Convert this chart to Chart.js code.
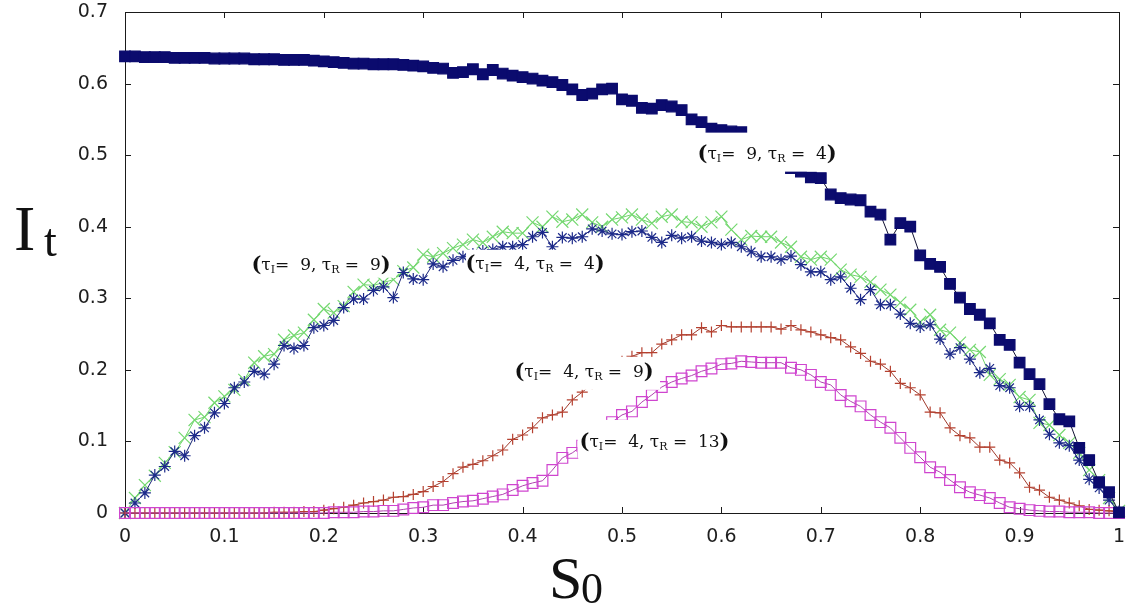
<!DOCTYPE html>
<html>
<head>
<meta charset="utf-8">
<script src="https://cdn.jsdelivr.net/npm/chart.js@4.4.1/dist/chart.umd.min.js"></script>
<style>
  html, body { margin: 0; padding: 0; background: #ffffff; }
  #wrap { width: 1130px; height: 612px; }
</style>
</head>
<body>
<div id="wrap"><canvas id="c" width="1130" height="612"></canvas></div>
<script>
// Initial susceptible fraction S0
const s0 = [
  0.00, 0.01, 0.02, 0.03, 0.04, 0.05, 0.06, 0.07, 0.08, 0.09,
  0.10, 0.11, 0.12, 0.13, 0.14, 0.15, 0.16, 0.17, 0.18, 0.19,
  0.20, 0.21, 0.22, 0.23, 0.24, 0.25, 0.26, 0.27, 0.28, 0.29,
  0.30, 0.31, 0.32, 0.33, 0.34, 0.35, 0.36, 0.37, 0.38, 0.39,
  0.40, 0.41, 0.42, 0.43, 0.44, 0.45, 0.46, 0.47, 0.48, 0.49,
  0.50, 0.51, 0.52, 0.53, 0.54, 0.55, 0.56, 0.57, 0.58, 0.59,
  0.60, 0.61, 0.62, 0.63, 0.64, 0.65, 0.66, 0.67, 0.68, 0.69,
  0.70, 0.71, 0.72, 0.73, 0.74, 0.75, 0.76, 0.77, 0.78, 0.79,
  0.80, 0.81, 0.82, 0.83, 0.84, 0.85, 0.86, 0.87, 0.88, 0.89,
  0.90, 0.91, 0.92, 0.93, 0.94, 0.95, 0.96, 0.97, 0.98, 0.99,
  1.00
];

// I_t for tauI = 9, tauR = 4 (filled squares)
const itI9R4 = [
  0.638, 0.638, 0.637, 0.637, 0.637, 0.636, 0.636, 0.636, 0.636, 0.635,
  0.635, 0.635, 0.635, 0.634, 0.634, 0.634, 0.633, 0.633, 0.633, 0.632,
  0.631, 0.630, 0.629, 0.628, 0.628, 0.627, 0.627, 0.627, 0.626, 0.625,
  0.624, 0.622, 0.621, 0.615, 0.616, 0.620, 0.613, 0.619, 0.614, 0.611,
  0.609, 0.607, 0.604, 0.602, 0.598, 0.592, 0.584, 0.586, 0.592, 0.593,
  0.578, 0.576, 0.566, 0.565, 0.570, 0.568, 0.563, 0.550, 0.546, 0.537,
  0.535, 0.533, 0.532, 0.522, 0.512, 0.500, 0.490, 0.482, 0.477, 0.469,
  0.468, 0.445, 0.440, 0.438, 0.437, 0.421, 0.417, 0.382, 0.405, 0.400,
  0.360, 0.348, 0.344, 0.320, 0.301, 0.285, 0.277, 0.265, 0.242, 0.235,
  0.210, 0.194, 0.180, 0.152, 0.131, 0.128, 0.091, 0.074, 0.043, 0.029,
  0.001
];

// I_t for tauI = 4, tauR = 4 (asterisks)
const itI4R4 = [
  0.000, 0.014, 0.028, 0.053, 0.065, 0.086, 0.080, 0.108, 0.119, 0.140,
  0.153, 0.175, 0.183, 0.198, 0.194, 0.208, 0.234, 0.230, 0.234, 0.259,
  0.262, 0.269, 0.287, 0.299, 0.299, 0.311, 0.316, 0.301, 0.336, 0.327,
  0.326, 0.348, 0.344, 0.353, 0.358, 0.362, 0.366, 0.368, 0.372, 0.372,
  0.375, 0.386, 0.392, 0.372, 0.385, 0.384, 0.386, 0.397, 0.394, 0.390,
  0.389, 0.393, 0.394, 0.385, 0.378, 0.388, 0.384, 0.386, 0.380, 0.378,
  0.375, 0.378, 0.372, 0.365, 0.358, 0.358, 0.354, 0.359, 0.347, 0.337,
  0.337, 0.326, 0.330, 0.314, 0.298, 0.312, 0.291, 0.291, 0.278, 0.265,
  0.260, 0.263, 0.243, 0.222, 0.231, 0.215, 0.196, 0.202, 0.178, 0.175,
  0.149, 0.149, 0.130, 0.110, 0.098, 0.094, 0.074, 0.047, 0.035, 0.018,
  0.002
];

// I_t for tauI = 9, tauR = 9 (crosses)
const itI9R9 = [
  0.000, 0.021, 0.039, 0.052, 0.070, 0.085, 0.105, 0.130, 0.134, 0.154,
  0.163, 0.172, 0.186, 0.210, 0.219, 0.222, 0.242, 0.248, 0.252, 0.270,
  0.285, 0.280, 0.289, 0.309, 0.319, 0.318, 0.322, 0.326, 0.338, 0.343,
  0.361, 0.358, 0.363, 0.370, 0.375, 0.382, 0.378, 0.386, 0.393, 0.391,
  0.391, 0.406, 0.400, 0.414, 0.407, 0.410, 0.417, 0.406, 0.400, 0.410,
  0.413, 0.417, 0.410, 0.405, 0.414, 0.417, 0.407, 0.406, 0.400, 0.406,
  0.414, 0.396, 0.382, 0.387, 0.386, 0.386, 0.378, 0.372, 0.358, 0.354,
  0.358, 0.354, 0.340, 0.333, 0.330, 0.323, 0.312, 0.305, 0.294, 0.284,
  0.267, 0.277, 0.256, 0.252, 0.238, 0.228, 0.225, 0.193, 0.187, 0.179,
  0.162, 0.158, 0.126, 0.123, 0.109, 0.098, 0.084, 0.060, 0.046, 0.021,
  0.003
];

// I_t for tauI = 4, tauR = 9 (plus signs)
const itI4R9 = [
  0.000, 0.000, 0.000, 0.000, 0.000, 0.000, 0.000, 0.000, 0.000, 0.000,
  0.000, 0.000, 0.000, 0.000, 0.000, 0.001, 0.001, 0.001, 0.002, 0.002,
  0.004, 0.006, 0.008, 0.011, 0.014, 0.016, 0.018, 0.022, 0.023, 0.026,
  0.030, 0.037, 0.044, 0.055, 0.064, 0.068, 0.073, 0.080, 0.088, 0.103,
  0.109, 0.119, 0.133, 0.137, 0.141, 0.158, 0.169, 0.180, 0.192, 0.203,
  0.212, 0.219, 0.224, 0.224, 0.236, 0.242, 0.249, 0.249, 0.259, 0.253,
  0.262, 0.260, 0.260, 0.260, 0.260, 0.260, 0.257, 0.262, 0.256, 0.253,
  0.249, 0.245, 0.242, 0.232, 0.223, 0.212, 0.208, 0.198, 0.181, 0.175,
  0.165, 0.141, 0.140, 0.119, 0.108, 0.105, 0.092, 0.092, 0.074, 0.070,
  0.056, 0.036, 0.032, 0.022, 0.018, 0.014, 0.010, 0.005, 0.004, 0.003,
  0.001
];

// I_t for tauI = 4, tauR = 13 (open squares)
const itI4R13 = [
  0.000, 0.000, 0.000, 0.000, 0.000, 0.000, 0.000, 0.000, 0.000, 0.000,
  0.000, 0.000, 0.000, 0.000, 0.000, 0.000, 0.000, 0.000, 0.000, 0.000,
  0.000, 0.001, 0.001, 0.001, 0.002, 0.002, 0.003, 0.003, 0.005, 0.007,
  0.008, 0.011, 0.011, 0.014, 0.016, 0.017, 0.020, 0.023, 0.026, 0.032,
  0.038, 0.042, 0.045, 0.060, 0.077, 0.084, 0.094, 0.105, 0.116, 0.127,
  0.137, 0.142, 0.155, 0.165, 0.176, 0.183, 0.188, 0.192, 0.198, 0.202,
  0.208, 0.209, 0.212, 0.211, 0.210, 0.210, 0.210, 0.203, 0.200, 0.193,
  0.183, 0.179, 0.165, 0.156, 0.149, 0.137, 0.127, 0.119, 0.105, 0.091,
  0.078, 0.064, 0.057, 0.046, 0.036, 0.029, 0.025, 0.021, 0.014, 0.008,
  0.006, 0.004, 0.003, 0.002, 0.002, 0.001, 0.001, 0.001, 0.000, 0.000,
  0.000
];

// Axis tick labels
const xTickLabels = ['0', '0.1', '0.2', '0.3', '0.4', '0.5', '0.6', '0.7', '0.8', '0.9', '1'];
const yTickLabels = ['0', '0.1', '0.2', '0.3', '0.4', '0.5', '0.6', '0.7'];

// Curve annotations: [tauI, tauR]
const curveTaus = [[9, 4], [9, 9], [4, 4], [4, 9], [4, 13]];

const toPoints = (ys) => s0.map((x, i) => ({ x: x, y: ys[i] }));

// Annotation placement (data coordinates of the text centre) and white backing box (px)
const annotationLayout = [
  { x: 0.646, y: 0.5035, box: [-77, 83, -20, 19] },
  { x: 0.1972, y: 0.3483, box: [-76, 75, -13, 14] },
  { x: 0.4125, y: 0.349, box: [-69, 70, -13.5, 16.5] },
  { x: 0.4618, y: 0.1979, box: [-79, 76, -14.5, 18.5] },
  { x: 0.5327, y: 0.1007, box: [-77, 78, -21, 17] }
];

// Box frame with inward tick marks on all four sides
const framePlugin = {
  id: 'frame',
  beforeDatasetsDraw(chart) {
    const { ctx, chartArea: a, scales } = chart;
    ctx.save();
    ctx.strokeStyle = '#1a1a1a';
    ctx.lineWidth = 1;
    ctx.beginPath();
    ctx.rect(Math.round(a.left) + 0.5, Math.round(a.top) + 0.5,
             Math.round(a.right - a.left), Math.round(a.bottom - a.top));
    ctx.stroke();
    const tl = 6;
    ctx.beginPath();
    scales.x.ticks.forEach(t => {
      const px = Math.round(scales.x.getPixelForValue(t.value)) + 0.5;
      ctx.moveTo(px, a.bottom); ctx.lineTo(px, a.bottom - tl);
      ctx.moveTo(px, a.top); ctx.lineTo(px, a.top + tl);
    });
    scales.y.ticks.forEach(t => {
      const py = Math.round(scales.y.getPixelForValue(t.value)) + 0.5;
      ctx.moveTo(a.left, py); ctx.lineTo(a.left + tl, py);
      ctx.moveTo(a.right, py); ctx.lineTo(a.right - tl, py);
    });
    ctx.stroke();
    ctx.restore();
  }
};

// Curve labels of the form (τI = a, τR = b) on white backing
const curveLabelPlugin = {
  id: 'curveLabels',
  afterDatasetsDraw(chart) {
    const { ctx, scales } = chart;
    ctx.save();
    const mainFont = '17px "DejaVu Serif"';
    const subFont = '11px "DejaVu Serif"';
    const parenFont = 'bold 21px "DejaVu Serif"';
    curveTaus.forEach((taus, k) => {
      const lay = annotationLayout[k];
      const cx = scales.x.getPixelForValue(lay.x);
      const cy = scales.y.getPixelForValue(lay.y);
      const b = lay.box;
      ctx.fillStyle = '#ffffff';
      ctx.fillRect(cx + b[0], cy + b[2], b[1] - b[0], b[3] - b[2]);
      const parts = [
        { t: '(', f: parenFont, dy: 1 },
        { t: 'τ', f: mainFont, dy: 0 },
        { t: 'I', f: subFont, dy: 3 },
        { t: '=  ' + taus[0] + ', ', f: mainFont, dy: 0 },
        { t: 'τ', f: mainFont, dy: 0 },
        { t: 'R', f: subFont, dy: 3 },
        { t: ' =  ' + taus[1], f: mainFont, dy: 0 },
        { t: ')', f: parenFont, dy: 1 }
      ];
      let w = 0;
      parts.forEach(p => { ctx.font = p.f; p.w = ctx.measureText(p.t).width; w += p.w; });
      let x = cx - w / 2;
      const base = cy + 6;
      ctx.fillStyle = '#111111';
      ctx.textBaseline = 'alphabetic';
      ctx.textAlign = 'left';
      parts.forEach(p => {
        ctx.font = p.f;
        ctx.fillText(p.t, x, base + p.dy);
        x += p.w;
      });
    });
    ctx.restore();
  }
};

// Axis titles with subscripts: I_t and S_0
const axisTitlePlugin = {
  id: 'axisTitles',
  afterDraw(chart) {
    const { ctx } = chart;
    ctx.save();
    ctx.fillStyle = '#111111';
    ctx.textBaseline = 'alphabetic';
    ctx.textAlign = 'left';
    ctx.font = '64px "Liberation Serif"';
    ctx.fillText('I', 14, 250);
    ctx.font = '46px "Liberation Serif"';
    ctx.fillText('t', 44, 256);
    ctx.font = '60px "Liberation Serif"';
    ctx.fillText('S', 549, 598);
    ctx.font = '44px "Liberation Serif"';
    ctx.fillText('0', 581, 603);
    ctx.restore();
  }
};

const baseSet = {
  showLine: true,
  fill: false,
  tension: 0,
  clip: false,
  borderWidth: 1,
  pointBorderWidth: 1.2,
  pointHoverRadius: 0
};

const noEdgePadding = (scale) => {
  scale.paddingLeft = 0;
  scale.paddingRight = 0;
  scale.paddingTop = 0;
  scale.paddingBottom = 0;
};

new Chart(document.getElementById('c'), {
  type: 'scatter',
  data: {
    datasets: [
      Object.assign({}, baseSet, {
        label: 'τI = 9, τR = 4',
        data: toPoints(itI9R4),
        borderColor: '#111133',
        pointStyle: 'rect',
        pointRadius: 7.5,
        pointBackgroundColor: '#0b0b6e',
        pointBorderColor: '#0b0b6e',
        order: 1
      }),
      Object.assign({}, baseSet, {
        label: 'τI = 4, τR = 13',
        data: toPoints(itI4R13),
        borderColor: '#b040b0',
        pointStyle: 'rect',
        pointRadius: 7.6,
        pointBackgroundColor: 'rgba(0,0,0,0)',
        pointBorderColor: '#cf45cf',
        order: 2
      }),
      Object.assign({}, baseSet, {
        label: 'τI = 4, τR = 9',
        data: toPoints(itI4R9),
        borderColor: '#a03a2c',
        pointStyle: 'cross',
        pointRadius: 5.5,
        pointBorderColor: '#b5402f',
        order: 3
      }),
      Object.assign({}, baseSet, {
        label: 'τI = 4, τR = 4',
        data: toPoints(itI4R4),
        borderColor: '#1b2478',
        pointStyle: 'star',
        pointRadius: 6,
        pointBorderColor: '#1c2a8a',
        order: 4
      }),
      Object.assign({}, baseSet, {
        label: 'τI = 9, τR = 9',
        data: toPoints(itI9R9),
        borderColor: '#6fd46a',
        pointStyle: 'crossRot',
        pointRadius: 8.5,
        pointBorderColor: '#74d870',
        order: 5
      })
    ]
  },
  options: {
    responsive: false,
    animation: false,
    devicePixelRatio: 1,
    layout: { padding: { left: 0, right: 11, top: 12, bottom: 0 } },
    plugins: {
      legend: { display: false },
      tooltip: { enabled: false },
      title: { display: false }
    },
    events: [],
    scales: {
      x: {
        type: 'linear',
        min: 0,
        max: 1,
        afterFit: (scale) => { scale.height = 99; noEdgePadding(scale); },
        afterBuildTicks: (scale) => {
          scale.ticks = xTickLabels.map((l, i) => ({ value: i / 10 }));
        },
        grid: { display: false, drawTicks: false },
        border: { display: false },
        ticks: {
          padding: 13,
          color: '#1e1e1e',
          font: { family: '"DejaVu Sans"', size: 19 },
          maxRotation: 0,
          autoSkip: false,
          callback: (v, i) => xTickLabels[i]
        }
      },
      y: {
        type: 'linear',
        min: 0,
        max: 0.7,
        afterFit: (scale) => { scale.width = 125; noEdgePadding(scale); },
        afterBuildTicks: (scale) => {
          scale.ticks = yTickLabels.map((l, i) => ({ value: i / 10 }));
        },
        grid: { display: false, drawTicks: false },
        border: { display: false },
        ticks: {
          padding: 17,
          color: '#1e1e1e',
          font: { family: '"DejaVu Sans"', size: 19 },
          autoSkip: false,
          callback: (v, i) => yTickLabels[i]
        }
      }
    }
  },
  plugins: [framePlugin, curveLabelPlugin, axisTitlePlugin]
});
</script>
</body>
</html>
